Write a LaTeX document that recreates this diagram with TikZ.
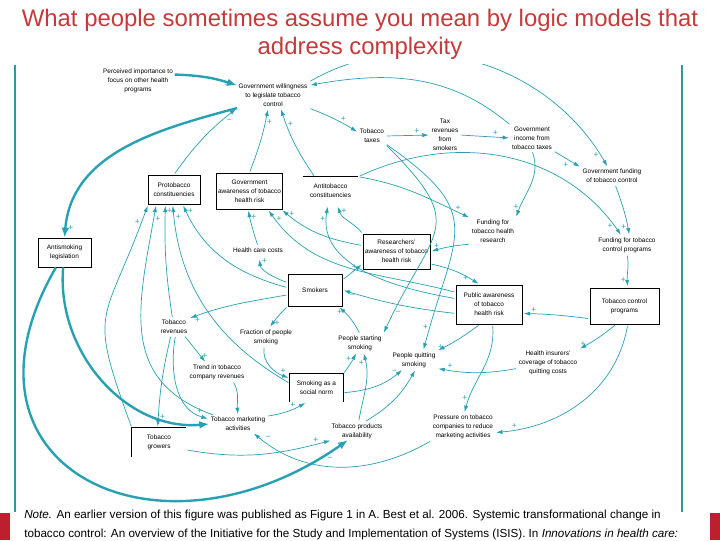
\documentclass[tikz,border=0pt]{standalone}
\usepackage{fontspec}
\setmainfont{Liberation Sans}
\usetikzlibrary{arrows.meta, positioning}
\definecolor{linkteal}{RGB}{40,160,180}
\definecolor{frameteal}{RGB}{50,150,165}
\definecolor{titlered}{RGB}{196,58,58}
\definecolor{slidered}{RGB}{190,30,45}

\begin{document}
\begin{tikzpicture}[x=0.025cm, y=0.025cm,
    var/.style={align=center, inner sep=1pt, font=\fontsize{4.6}{6.4}\selectfont},
    varbox/.style={var, draw, line width=0.6pt},
    boxedge/.style={line width=0.6pt},
    link/.style={draw=linkteal, line width=0.5pt, -{Latex[length=4.5pt,width=3pt]}, shorten <=1pt, shorten >=1pt},
    heavylink/.style={draw=linkteal, line width=1.7pt, -{Latex[length=7pt,width=5.5pt]}},
    sgn/.style={font=\fontsize{6}{6}\selectfont, text=linkteal, inner sep=1pt}
]
    \useasboundingbox (0,0) rectangle (720,-540);

    % slide frame and title
    \draw[frameteal, line width=1.5pt] (15,-65) -- (15,-512);
    \draw[frameteal, line width=1.5pt] (682,-65) -- (682,-512);
    \fill[slidered] (0,-513) rectangle (10,-540);
    \fill[slidered] (710,-513) rectangle (720,-540);
    \node[font=\fontsize{17}{20}\selectfont, text=titlered, align=center] (title) at (360,-34)
        {What people sometimes assume you mean by logic models that\\address complexity};
    \node[font=\fontsize{8.3}{13}\selectfont, align=left, anchor=north west, inner sep=0] (note) at (24,-510)
        {\textit{Note.} An earlier version of this figure was published as Figure 1 in A. Best et al. 2006. Systemic transformational change in\\tobacco control: An overview of the Initiative for the Study and Implementation of Systems (ISIS). In \textit{Innovations in health care:}};

    % variables
    \node[var] (perc) at (138,-81) {Perceived importance to\\focus on other health\\programs};
    \node[var] (will) at (273,-95) {Government willingness\\to legislate tobacco\\control};
    \node[var] (taxes) at (372,-136) {Tobacco\\taxes};
    \node[var] (taxrev) at (445,-135) {Tax\\revenues\\from\\smokers};
    \node[var] (income) at (532,-138) {Government\\income from\\tobacco taxes};
    \node[var] (govfund) at (612,-176) {Government funding\\of tobacco control};
    \node[varbox, minimum width=1.3cm, minimum height=0.725cm] (protob) at (174,-189.5) {Protobacco\\constituencies};
    \node[varbox, minimum width=1.625cm, minimum height=0.9cm] (govaware) at (249.5,-191) {Government\\awareness of tobacco\\health risk};
    \node[var, minimum width=1.375cm, minimum height=0.7cm] (antitob) at (330.5,-191) {Antitobacco\\constituencies};
    \node[varbox, minimum width=1.325cm, minimum height=0.725cm] (legis) at (64.5,-252.5) {Antismoking\\legislation};
    \node[var] (hcc) at (258,-250) {Health care costs};
    \node[varbox, minimum width=1.35cm, minimum height=0.8cm] (smokers) at (315,-290) {Smokers};
    \node[varbox, minimum width=1.675cm, minimum height=0.875cm] (research) at (396.5,-251.5) {Researchers'\\awareness of tobacco\\health risk};
    \node[var] (fundres) at (493,-231) {Funding for\\tobacco health\\research};
    \node[var] (fundtcp) at (627,-245) {Funding for tobacco\\control programs};
    \node[varbox, minimum width=1.65cm, minimum height=0.975cm] (public) at (489,-304.5) {Public awareness\\of tobacco\\health risk};
    \node[varbox, minimum width=1.725cm, minimum height=0.9cm] (tcp) at (624.5,-306) {Tobacco control\\programs};
    \node[var] (revenues) at (174,-327) {Tobacco\\revenues};
    \node[var] (fraction) at (266,-337) {Fraction of people\\smoking};
    \node[var] (starting) at (360,-343) {People starting\\smoking};
    \node[var] (quitting) at (414,-360) {People quitting\\smoking};
    \node[var] (insurers) at (548,-363) {Health insurers'\\coverage of tobacco\\quitting costs};
    \node[var] (trend) at (217,-372) {Trend in tobacco\\company revenues};
    \node[var, minimum width=1.325cm, minimum height=0.7cm] (norm) at (316.5,-388) {Smoking as a\\social norm};
    \node[var] (marketing) at (238,-424) {Tobacco marketing\\activities};
    \node[var, minimum width=1.35cm, minimum height=0.725cm] (growers) at (159,-442.5) {Tobacco\\growers};
    \node[var] (avail) at (357,-431) {Tobacco products\\availability};
    \node[var] (pressure) at (463,-427) {Pressure on tobacco\\companies to reduce\\marketing activities};

    % open boxes
    \draw[boxedge] (antitob.north west) -- (antitob.north east);
    \draw[boxedge] (norm.south west) -- (norm.north west) -- (norm.north east) -- (norm.south east);
    \draw[boxedge] (growers.south west) -- (growers.north west) -- (growers.north east);

    % links
    \begin{scope}
    \clip (0,-64) rectangle (720,-540);
    \draw[heavylink] (perc.10) to[bend left=8] node[sgn,pos=.85,below]{−} (will.165);
    \draw[heavylink] (will.200) to[out=195,in=85] node[sgn,pos=.96,right]{+} (legis.north);
    \draw[link] (protob.north) to[bend left=8] node[sgn,pos=.85,below right]{−} (will.south west);
    \draw[link] (govaware.north) to[bend right=5] node[sgn,pos=.8,right]{+} (will.250);
    \draw[link] (antitob.138) to[bend left=8] node[sgn,pos=.8,right]{+} (will.300);
    \draw[link] (will.south east) to[bend left=5] node[sgn,pos=.7,above]{+} (taxes.165);
    \draw[link] (taxes.east) -- node[sgn,pos=.7,above]{+} (taxrev.west);
    \draw[link] (taxrev.east) -- node[sgn,pos=.7,above]{+} (income.west);
    \draw[link] (income.south east) -- node[sgn,pos=.6,below left]{+} (govfund.north west);
    \draw[link] (income.north west) to[out=140,in=10] (will.15);
    \draw[link] (will.north east) to[out=30,in=120] node[sgn,pos=.96,left]{+} (govfund.115);
    \draw[link] (income.south) to[out=-70,in=70] node[sgn,pos=.85,left]{+} (fundres.north east);
    \draw[link] (antitob.north east) to[out=-10,in=155] node[sgn,pos=.9,above]{+} (fundres.north west);
    \draw[link] (antitob.north east) to[out=25,in=125] node[sgn,pos=.96,left]{+} (fundtcp.120);
    \draw[link] (govfund.-70) to[out=-70,in=100] node[sgn,pos=.85,left]{+} (fundtcp.75);
    \draw[link] (fundtcp.south) to[out=-80,in=95] node[sgn,pos=.8,left]{+} (tcp.80);
    \draw[link] (tcp.200) to[bend right=3] node[sgn,pos=.85,above]{+} (public.-15);
    \draw[link] (fundres.south west) to[bend right=5] node[sgn,pos=.85,above]{+} (research.east);
    \draw[link] (research.-20) to[bend left=10] node[sgn,pos=.8,left]{+} (public.115);
    \draw[link] (research.170) to[out=170,in=-40] node[sgn,pos=.92,right]{+} (govaware.-30);
    \draw[link] (research.north west) to[out=130,in=-70] node[sgn,pos=.85,right]{+} (antitob.-65);
    \draw[link] (public.160) to[out=165,in=-55] node[sgn,pos=.95,right]{+} (govaware.-45);
    \draw[link] (public.170) to[out=170,in=-100] node[sgn,pos=.92,left]{+} (antitob.-100);
    \draw[link] (public.195) to[bend left=5] node[sgn,pos=.92,below]{−} (smokers.east);
    \draw[link] (smokers.20) -- node[sgn,pos=.8,left]{+} (research.-160);
    \draw[link, shorten >=4pt] (smokers.165) to[out=160,in=-85] node[sgn,pos=.85,right]{+} (hcc.-75);
    \draw[link] (hcc.north) to[bend left=3] node[sgn,pos=.8,right]{+} (govaware.-95);
    \draw[link] (smokers.175) to[out=165,in=-65] node[sgn,pos=.95,right]{+} (protob.-60);
    \draw[link] (smokers.190) to[out=190,in=20] node[sgn,pos=.92,below]{+} (revenues.north east);
    \draw[link] (smokers.south west) to[bend right=5] node[sgn,pos=.8,right]{+} (fraction.70);
    \draw[link] (starting.north) to[bend right=10] node[sgn,pos=.8,left]{+} (smokers.-35);
    \draw[link] (taxes.south east) to[out=-45,in=65,looseness=1.6] node[sgn,pos=.93,right]{−} (starting.north east);
    \draw[link] (taxes.-30) to[out=-35,in=75,looseness=1.5] node[sgn,pos=.93,left]{+} (quitting.45);
    \draw[link] (public.-115) to[bend left=5] node[sgn,pos=.85,left]{+} (quitting.north east);
    \draw[link] (insurers.190) to[bend left=10] node[sgn,pos=.85,above]{+} (quitting.-20);
    \draw[link] (tcp.-115) to[bend left=5] node[sgn,pos=.8,left]{+} (insurers.north east);
    \draw[link] (public.-80) to[out=-85,in=75] node[sgn,pos=.85,left]{+} (pressure.85);
    \draw[link] (tcp.-80) to[out=-100,in=5] node[sgn,pos=.9,above]{+} (pressure.-10);
    \draw[link] (pressure.south west) to[out=-150,in=-40] node[sgn,pos=.93,above right]{−} (marketing.-30);
    \draw[link] (growers.-15) to[out=-10,in=195] node[sgn,pos=.9,above]{+} (avail.200);
    \draw[heavylink] (legis.-120) to[out=-120,in=215,looseness=1.75] node[sgn,pos=.96,below right]{−} (avail.225);
    \draw[heavylink] (legis.-95) to[out=-95,in=185] (marketing.west);
    \draw[link] (revenues.-110) to[bend right=5] node[sgn,pos=.9,right]{+} (growers.95);
    \draw[link] (revenues.-40) -- node[sgn,pos=.75,right]{+} (trend.140);
    \draw[link] (trend.-30) to[out=-60,in=95] (marketing.north);
    \draw[link] (revenues.-80) to[out=-100,in=165] node[sgn,pos=.9,above]{+} (marketing.170);
    \draw[link] (fraction.-100) to[out=-100,in=160] node[sgn,pos=.85,above]{+} (norm.160);
    \draw[link] (marketing.15) to[bend right=10] node[sgn,pos=.65,above]{+} (norm.-125);
    \draw[link] (norm.north east) to[bend right=5] node[sgn,pos=.7,left]{+} (starting.-110);
    \draw[link] (avail.80) to[out=80,in=-75] node[sgn,pos=.85,left]{+} (starting.-70);
    \draw[link] (norm.-10) to[out=5,in=-140] node[sgn,pos=.85,above]{−} (quitting.-140);
    \draw[link] (avail.50) to[bend right=15] (quitting.-80);
    \draw[link] (growers.north west) to[out=110,in=-110,looseness=1.5] node[sgn,pos=.95,left]{+} (protob.-150);
    \draw[link] (marketing.160) to[out=160,in=-100,looseness=1.2] node[sgn,pos=.95,right]{+} (protob.-140);
    \draw[link] (revenues.100) to[bend left=5] node[sgn,pos=.95,right]{+} (protob.-120);
    \draw[link] (norm.170) to[out=150,in=-85] node[sgn,pos=.95,right]{+} (protob.-95);
    \end{scope}
\end{tikzpicture}
\end{document}
